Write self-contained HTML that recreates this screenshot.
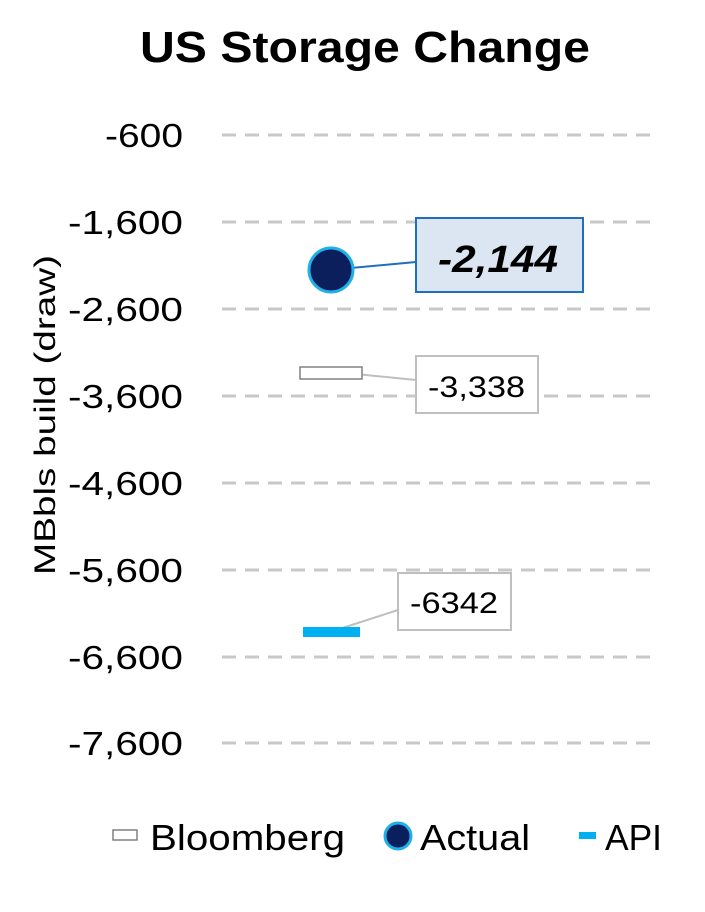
<!DOCTYPE html>
<html><head><meta charset="utf-8"><style>
html,body{margin:0;padding:0;background:#fff;}
svg{display:block;font-family:"Liberation Sans",Calibri,sans-serif;}
</style></head><body>
<svg width="705" height="912" viewBox="0 0 705 912" xmlns="http://www.w3.org/2000/svg">
<rect width="705" height="912" fill="#fff"/>
<text x="140" y="62" font-size="44" font-weight="bold" fill="#000" textLength="450" lengthAdjust="spacingAndGlyphs">US Storage Change</text>
<g stroke="#c8c8c8" stroke-width="3" stroke-dasharray="14,9">
<line x1="222" y1="135" x2="650" y2="135"/>
<line x1="222" y1="222" x2="650" y2="222"/>
<line x1="222" y1="309" x2="650" y2="309"/>
<line x1="222" y1="396" x2="650" y2="396"/>
<line x1="222" y1="483" x2="650" y2="483"/>
<line x1="222" y1="570" x2="650" y2="570"/>
<line x1="222" y1="657" x2="650" y2="657"/>
<line x1="222" y1="743" x2="650" y2="743"/>
</g>
<g font-size="33" fill="#000">
<text x="105" y="147" textLength="78" lengthAdjust="spacingAndGlyphs">-600</text>
<text x="68" y="234" textLength="115" lengthAdjust="spacingAndGlyphs">-1,600</text>
<text x="68" y="321" textLength="115" lengthAdjust="spacingAndGlyphs">-2,600</text>
<text x="68" y="408" textLength="115" lengthAdjust="spacingAndGlyphs">-3,600</text>
<text x="68" y="495" textLength="115" lengthAdjust="spacingAndGlyphs">-4,600</text>
<text x="68" y="582" textLength="115" lengthAdjust="spacingAndGlyphs">-5,600</text>
<text x="68" y="669" textLength="115" lengthAdjust="spacingAndGlyphs">-6,600</text>
<text x="68" y="755" textLength="115" lengthAdjust="spacingAndGlyphs">-7,600</text>
</g>
<text transform="translate(55,575) rotate(-90)" font-size="30" fill="#000" textLength="320" lengthAdjust="spacingAndGlyphs">MBbls build (draw)</text>
<!-- Bloomberg -->
<line x1="345" y1="373" x2="416" y2="380" stroke="#bfbfbf" stroke-width="2"/>
<rect x="300" y="367" width="62" height="12" fill="#fff" stroke="#808080" stroke-width="1.5"/>
<rect x="416" y="356" width="122" height="57" fill="#fff" stroke="#bfbfbf" stroke-width="2"/>
<text x="428" y="397" font-size="30" textLength="97" lengthAdjust="spacingAndGlyphs">-3,338</text>
<!-- API -->
<line x1="330" y1="632" x2="398" y2="610" stroke="#bfbfbf" stroke-width="2"/>
<rect x="303" y="627" width="57" height="10" fill="#00b0f0"/>
<rect x="398" y="573" width="113" height="57" fill="#fff" stroke="#bfbfbf" stroke-width="2"/>
<text x="410" y="613" font-size="30" textLength="88" lengthAdjust="spacingAndGlyphs">-6342</text>
<!-- Actual -->
<line x1="340" y1="269" x2="416" y2="262" stroke="#1f6fbf" stroke-width="2"/>
<circle cx="331" cy="270" r="22" fill="#0a1f5c" stroke="#1fb0e8" stroke-width="3"/>
<rect x="416" y="218" width="167" height="74" fill="#dce6f2" stroke="#1f6fbf" stroke-width="2"/>
<text x="438" y="272" font-size="38" font-weight="bold" font-style="italic" textLength="120" lengthAdjust="spacingAndGlyphs">-2,144</text>
<!-- Legend -->
<rect x="113" y="830" width="24" height="10" fill="#fff" stroke="#808080" stroke-width="1.5"/>
<text x="150" y="850" font-size="36" textLength="195" lengthAdjust="spacingAndGlyphs">Bloomberg</text>
<circle cx="398" cy="836" r="13" fill="#0a1f5c" stroke="#1fb0e8" stroke-width="3"/>
<text x="420" y="850" font-size="36" textLength="110" lengthAdjust="spacingAndGlyphs">Actual</text>
<rect x="579" y="832" width="17" height="7" fill="#00b0f0"/>
<text x="605" y="850" font-size="36" textLength="57" lengthAdjust="spacingAndGlyphs">API</text>
</svg>
</body></html>
